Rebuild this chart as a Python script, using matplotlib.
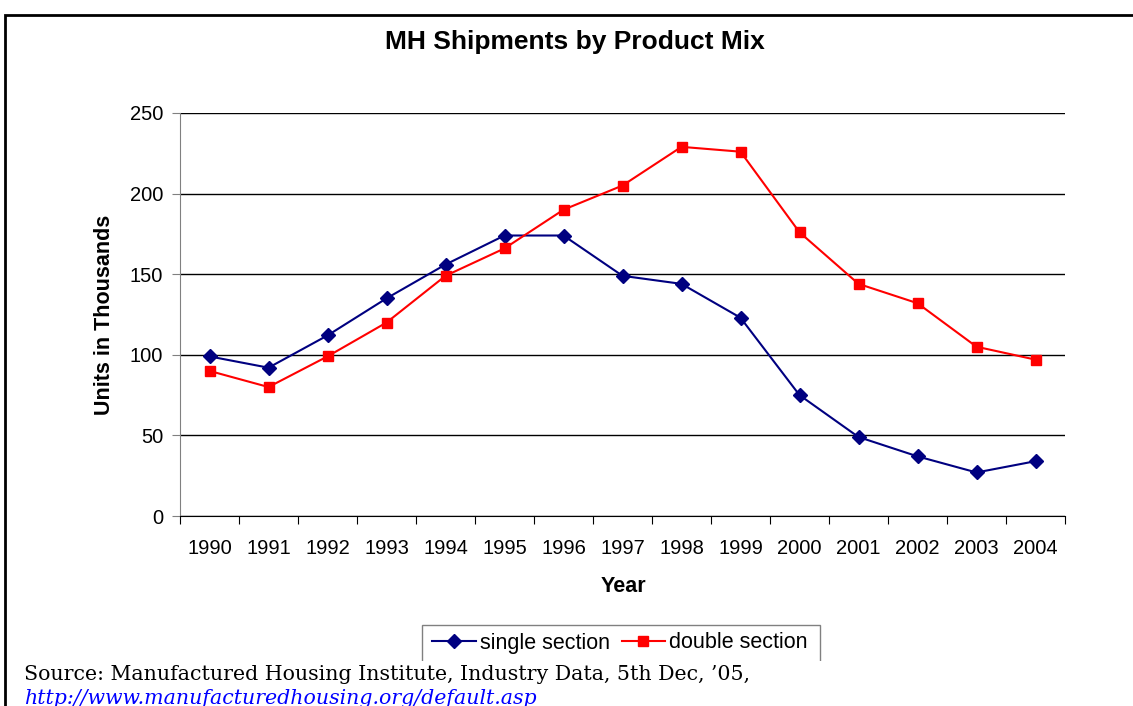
import matplotlib
matplotlib.use("Agg")
import matplotlib.pyplot as plt
from matplotlib.patches import Rectangle
from matplotlib.lines import Line2D

plt.rcParams['font.family'] = ['Liberation Sans', 'DejaVu Sans']

years = [str(y) for y in range(1990, 2005)]
single_section = [99, 92, 112, 135, 156, 174, 174, 149, 144, 123, 75, 49, 37, 27, 34]
double_section = [90, 80, 99, 120, 149, 166, 190, 205, 229, 226, 176, 144, 132, 105, 97]

W, H = 1133, 706
fig = plt.figure(figsize=(W / 100, H / 100), dpi=100)

# outer chart border (runs off the right and bottom edge)
fig.add_artist(Rectangle((5 / W, -0.1), 1.2, (H - 15) / H + 0.1, transform=fig.transFigure,
                         fill=False, edgecolor='black', linewidth=2))

ax = fig.add_axes([180 / W, (H - 516) / H, (1065 - 180) / W, (516 - 113) / H])
x = list(range(len(years)))
ax.plot(x, single_section, color='#000080', marker='D', markersize=7, linewidth=1.5,
        label='single section')
ax.plot(x, double_section, color='#ff0000', marker='s', markersize=7, linewidth=1.5,
        label='double section')

ax.set_xlim(-0.5, len(years) - 0.5)
ax.set_ylim(0, 250)
ax.set_yticks(range(0, 251, 50))
ax.yaxis.grid(True, color='black', linewidth=1)
ax.set_axisbelow(True)

ax.set_xticks([i - 0.5 for i in range(len(years) + 1)])
ax.set_xticklabels([])
ax.set_xticks(x, minor=True)
ax.set_xticklabels(years, minor=True, fontsize=14.5)
ax.tick_params(axis='x', which='minor', length=0, pad=16.5)
ax.tick_params(axis='x', which='major', length=6, color='black', direction='out')
ax.tick_params(axis='y', length=6, color='#808080', labelsize=14.5, pad=6)

for s in ['top', 'right']:
    ax.spines[s].set_visible(False)
ax.spines['left'].set_color('#808080')
ax.spines['bottom'].set_color('black')

fig.text(575 / W, 1 - 42 / H, 'MH Shipments by Product Mix', ha='center', va='center',
         fontsize=19, fontweight='bold')
fig.text(105 / W, 1 - 315 / H, 'Units in Thousands', ha='center', va='center',
         rotation=90, fontsize=15.5, fontweight='bold')
fig.text(623 / W, 1 - 586 / H, 'Year', ha='center', va='center',
         fontsize=15.5, fontweight='bold')

# legend box, bottom edge hidden beneath the source note
fig.add_artist(Rectangle((422 / W, 1 - 700 / H), (820 - 422) / W, 75 / H,
                         transform=fig.transFigure, fill=False, edgecolor='#808080',
                         linewidth=1))
handles = [Line2D([], [], color='#000080', marker='D', markersize=7, linewidth=1.5),
           Line2D([], [], color='#ff0000', marker='s', markersize=7, linewidth=1.5)]
fig.legend(handles, ['single section', 'double section'], loc='center',
           bbox_to_anchor=(620 / W, 1 - 643 / H), ncol=2, frameon=False,
           fontsize=15.5, handlelength=2.0, handletextpad=0.2, columnspacing=0.55,
           borderpad=0)

fig.add_artist(Rectangle((7 / W, -0.1), 1.2, 0.1 + (H - 661) / H,
                         transform=fig.transFigure, facecolor='white', edgecolor='none'))
fig.text(24 / W, 1 - 675 / H, 'Source: Manufactured Housing Institute, Industry Data, 5th Dec, \u201905,',
         ha='left', va='center', fontsize=14.8, family='DejaVu Serif')
fig.text(24 / W, 1 - 698 / H, 'http://www.manufacturedhousing.org/default.asp',
         ha='left', va='center', fontsize=14.8, family='DejaVu Serif',
         style='italic', color='#0000ff')

fig.savefig('out.png', dpi=100)
